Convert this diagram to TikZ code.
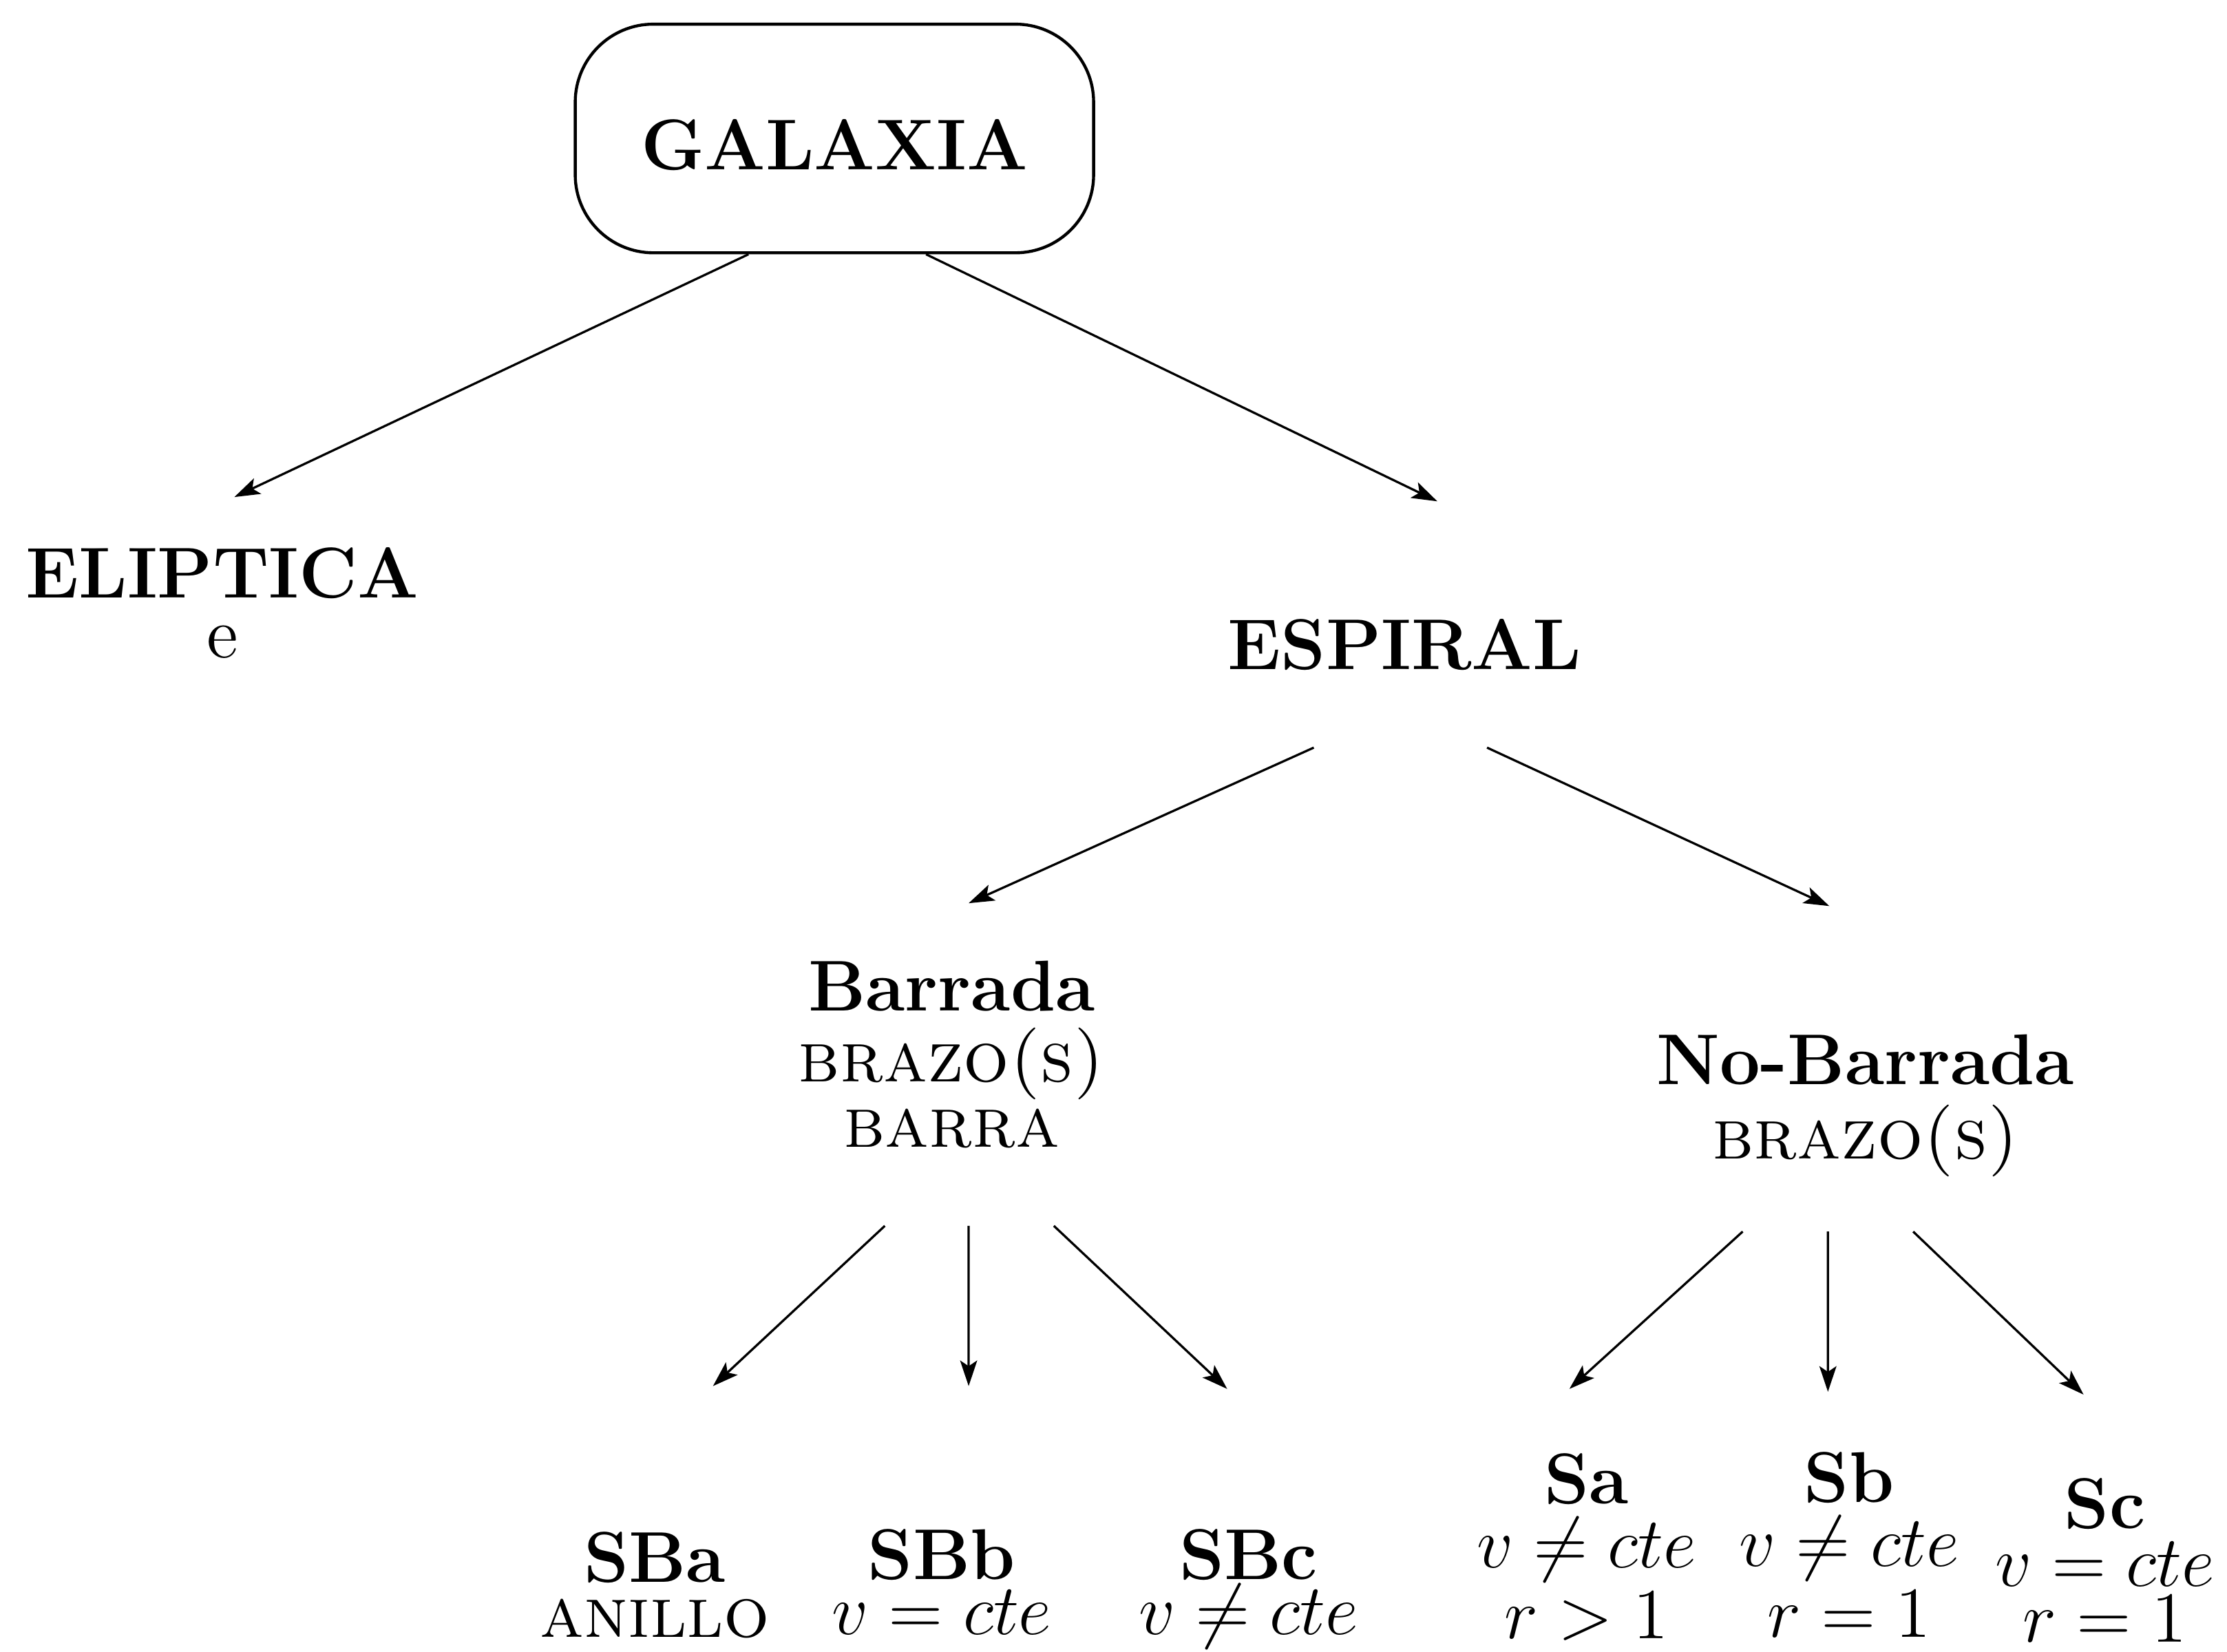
\documentclass[tikz,border=0pt]{standalone}
\usepackage{amsmath}
\usepackage{tikz}
\usetikzlibrary{positioning,arrows.meta,calc}
\tikzset{caja/.style={draw,rounded corners=0.55cm,minimum width=3.65cm,minimum height=1.61cm,text height=0.45cm,line width=0.6pt,font=\Large\bfseries},
    tipo/.style={align=center,inner sep=0pt,anchor=north,font=\Large},
    flecha/.style={-{Stealth[length=1.8mm,width=1.2mm,inset=0.4mm]},line width=0.45pt}}
\begin{document}
\begin{tikzpicture}
    \useasboundingbox (0,0) rectangle (15.68,-11.63);
    % niveles del arbol
    \node[caja] (gal) at (5.875,-0.975) {GALAXIA};
    \node[tipo] (eli) at (1.565,-3.85) {\textbf{ELIPTICA}\\[-6.1pt] e};
    \node[tipo] (esp) at (9.89,-4.35) {\textbf{ESPIRAL}};
    \node[tipo] (bar) at (6.70,-6.76) {\textbf{Barrada}\\[-3.8pt] \textsc{brazo(s)}\\[-4.9pt] \textsc{barra}};
    \node[tipo] (nob) at (13.135,-7.28) {\textbf{No-Barrada}\\[-3.2pt] \textsc{brazo(s)}};
    \node[tipo] (sba) at (4.61,-10.78) {\textbf{SBa}\\[-6.9pt] \textsc{anillo}};
    \node[tipo] (sbb) at (6.63,-10.76) {\textbf{SBb}\\[-6.9pt] $v=cte$};
    \node[tipo] (sbc) at (8.79,-10.76) {\textbf{SBc}\\[-6.9pt] $v\neq cte$};
    \node[tipo] (sa) at (11.17,-10.23) {\textbf{Sa}\\[-5.2pt] $v\neq cte$\\[-3.8pt] $r>1$};
    \node[tipo] (sb) at (13.02,-10.22) {\textbf{Sb}\\[-5.2pt] $v\neq cte$\\[-3.8pt] $r=1$};
    \node[tipo] (sc) at (14.82,-10.40) {\textbf{Sc}\\[-6.3pt] $v=cte$\\[-6.9pt] $r=1$};

    \draw[flecha] ($(gal.south)+(-0.605,0)$) -- ($(eli.north)+(0.085,0.35)$);
    \draw[flecha] ($(gal.south)+(0.645,0)$) -- ($(esp.north)+(0.23,0.82)$);
    \draw[flecha] ($(esp.south)+(-0.64,-0.54)$) -- ($(bar.north)+(0.12,0.40)$);
    \draw[flecha] ($(esp.south)+(0.58,-0.54)$) -- ($(nob.north)+(-0.255,0.90)$);
    \draw[flecha] ($(bar.south)+(-0.47,-0.54)$) -- ($(sba.north)+(0.41,1.02)$);
    \draw[flecha] ($(bar.south)+(0.12,-0.54)$) -- ($(sbb.north)+(0.19,1.00)$);
    \draw[flecha] ($(bar.south)+(0.72,-0.54)$) -- ($(sbc.north)+(-0.15,0.98)$);
    \draw[flecha] ($(nob.south)+(-0.865,-0.38)$) -- ($(sa.north)+(-0.12,0.45)$);
    \draw[flecha] ($(nob.south)+(-0.265,-0.38)$) -- ($(sb.north)+(-0.15,0.42)$);
    \draw[flecha] ($(nob.south)+(0.335,-0.38)$) -- ($(sc.north)+(-0.15,0.58)$);
\end{tikzpicture}
\end{document}
